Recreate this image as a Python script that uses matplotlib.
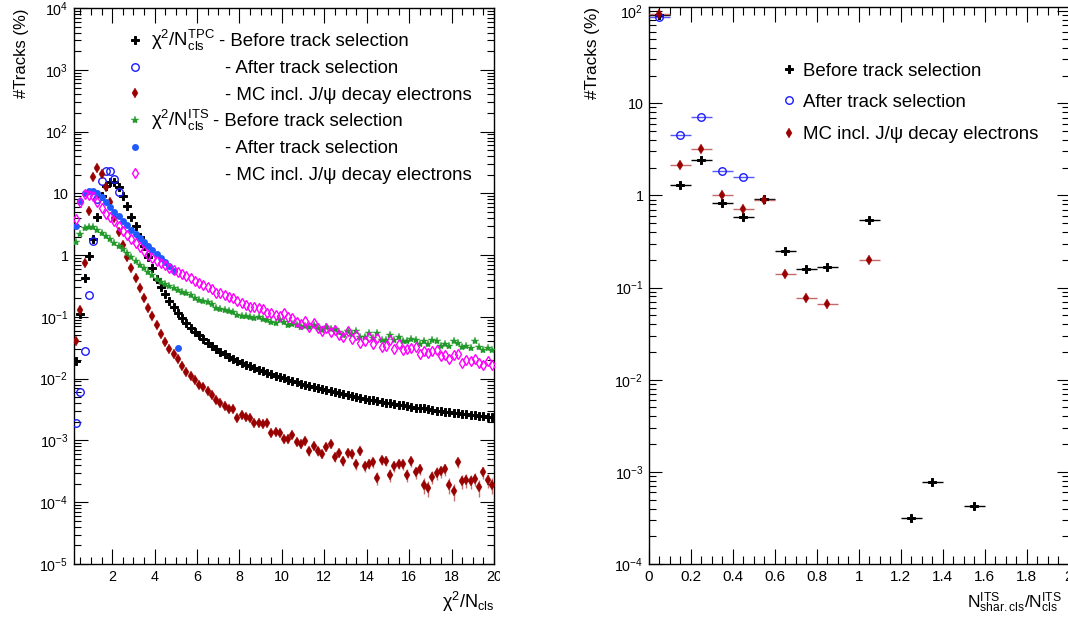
import numpy as np
import matplotlib
matplotlib.use("Agg")
import matplotlib.pyplot as plt
from matplotlib.lines import Line2D
from matplotlib.ticker import FixedLocator, MultipleLocator, FuncFormatter, NullFormatter
from matplotlib.transforms import Bbox, TransformedBbox

plt.rcParams["font.family"] = ["Liberation Sans", "DejaVu Sans"]
plt.rcParams["mathtext.fontset"] = "custom"
plt.rcParams["mathtext.rm"] = "Liberation Sans"
plt.rcParams["mathtext.it"] = "Liberation Sans:italic"
plt.rcParams["mathtext.bf"] = "Liberation Sans:bold"

W, H = 1068, 621

# ---------------------------------------------------------------------------
# chi2 / N_cls distributions (percent of tracks), 0.2-wide bins
# ---------------------------------------------------------------------------
chi2_centres = np.round(np.arange(0.3, 20.0, 0.2), 2)

tpc_before = [
    0.019, 0.11, 0.42, 0.95, 1.85, 4.2, 9.0, 13.0, 15.0, 15.4,
    12.5, 9.0, 6.3, 4.2, 2.95, 2.0, 1.4, 0.92, 0.62, 0.41,
    0.30, 0.234, 0.183, 0.143, 0.114, 0.095, 0.079, 0.067, 0.0575, 0.050,
    0.0433, 0.0382, 0.0337, 0.0302, 0.0273, 0.0247, 0.0227, 0.0208, 0.0193, 0.0179,
    0.0168, 0.0158, 0.0149, 0.0140, 0.0131, 0.0125, 0.0117, 0.0112, 0.0106, 0.0101,
    0.0096, 0.0092, 0.0087, 0.0083, 0.0080, 0.0077, 0.0074, 0.0071, 0.0068, 0.0065,
    0.0063, 0.0061, 0.0059, 0.0057, 0.0055, 0.0053, 0.0051, 0.0049, 0.0047, 0.0046,
    0.0045, 0.0043, 0.0042, 0.0041, 0.0040, 0.0039, 0.0038, 0.0037, 0.0036, 0.0035,
    0.0034, 0.0033, 0.0033, 0.0032, 0.0031, 0.0030, 0.0030, 0.0029, 0.0029, 0.0028,
    0.0028, 0.0027, 0.0027, 0.0026, 0.0026, 0.0025, 0.0025, 0.0024, 0.0024,
]

tpc_after = [0.0019, 0.006, 0.028, 0.23, 1.7, 8.0, 16.0, 23.0, 23.0, 17.0, 10.4]

tpc_mc = [
    0.041, 0.13, 0.74, 5.1, 18.6, 26.0, 20.5, 12.8, 7.2, 4.0,
    2.4, 1.45, 0.93, 0.63, 0.42, 0.29, 0.20, 0.141, 0.103, 0.074,
    0.052, 0.0397, 0.030, 0.025, 0.0206, 0.016, 0.013, 0.0112, 0.0095, 0.0079,
    0.0072, 0.0062, 0.0054, 0.0046, 0.0041, 0.0036, 0.0032, 0.0032, 0.00228, 0.0026,
    0.00237, 0.00228, 0.00194, 0.00189, 0.00185, 0.00189, 0.0013, 0.00139, 0.0013, 0.00104,
    0.00104, 0.00122, 0.00096, 0.00088, 0.00098, 0.00067, 0.00081, 0.00067, 0.00061, 0.00079,
    0.00087, 0.00053, 0.00063, 0.00047, 0.00062, 0.0006, 0.00041, 0.00068, 0.00039, 0.00042,
    0.00044, 0.00025, 0.00048, 0.00047, 0.00028, 0.00039, 0.00042, 0.00041, 0.00028, 0.00046,
    0.00031, 0.00035, 0.00019, 0.00017, 0.00026, 0.0003, 0.00032, 0.00034, 0.00019, 0.000152,
    0.00044, 0.00022, 0.00023, 0.00022, 0.00024, 0.000174, 0.00031, 0.00023, 0.00019,
]

its_before = [
    1.65, 2.19, 2.71, 2.88, 2.81, 2.55, 2.31, 2.04, 1.80, 1.59,
    1.40, 1.24, 1.09, 0.94, 0.80, 0.70, 0.61, 0.54, 0.47, 0.41,
    0.37, 0.34, 0.316, 0.29, 0.272, 0.252, 0.240, 0.226, 0.205, 0.19,
    0.183, 0.171, 0.162, 0.138, 0.133, 0.129, 0.124, 0.119, 0.108, 0.104,
    0.103, 0.098, 0.095, 0.098, 0.091, 0.090, 0.084, 0.081, 0.088, 0.084,
    0.075, 0.078, 0.074, 0.068, 0.072, 0.068, 0.074, 0.066, 0.062, 0.068,
    0.063, 0.063, 0.056, 0.051, 0.060, 0.052, 0.060, 0.048, 0.047, 0.055,
    0.045, 0.054, 0.043, 0.043, 0.051, 0.042, 0.048, 0.040, 0.041, 0.044,
    0.043, 0.036, 0.040, 0.036, 0.043, 0.041, 0.034, 0.036, 0.034, 0.041,
    0.038, 0.032, 0.034, 0.031, 0.040, 0.032, 0.029, 0.031, 0.029,
]

its_after = [
    2.96, 7.5, 10.0, 11.0, 11.0, 10.0, 8.6, 7.3, 6.1, 5.0,
    4.3, 3.6, 3.03, 2.55, 2.19, 1.87, 1.61, 1.40, 1.21, 1.05,
    0.90, 0.78, 0.67, 0.56, 0.031,
]

its_mc = [
    3.9, 7.3, 9.6, 9.4, 9.0, 7.3, 5.7, 4.7, 4.1, 3.5,
    2.96, 2.48, 2.11, 1.80, 1.55, 1.33, 1.16, 1.02, 0.90, 0.80,
    0.74, 0.68, 0.62, 0.575, 0.538, 0.494, 0.458, 0.42, 0.385, 0.357,
    0.328, 0.30, 0.279, 0.247, 0.240, 0.226, 0.212, 0.20, 0.181, 0.17,
    0.156, 0.146, 0.143, 0.137, 0.134, 0.117, 0.114, 0.107, 0.103, 0.114,
    0.098, 0.095, 0.084, 0.077, 0.087, 0.068, 0.079, 0.065, 0.060, 0.065,
    0.056, 0.061, 0.051, 0.048, 0.060, 0.044, 0.051, 0.038, 0.040, 0.047,
    0.037, 0.045, 0.032, 0.034, 0.042, 0.030, 0.037, 0.029, 0.030, 0.031,
    0.033, 0.025, 0.028, 0.026, 0.028, 0.029, 0.023, 0.024, 0.021, 0.024,
    0.025, 0.018, 0.020, 0.019, 0.0206, 0.018, 0.0166, 0.019, 0.0166,
]

# percent carried by a single MC track (sets the statistical error bars)
mc_track_weight = 1.5e-5

# ---------------------------------------------------------------------------
# shared ITS clusters fraction (percent of tracks), 0.1-wide bins
# ---------------------------------------------------------------------------
shar_half_width = 0.05
shar_before_x = [0.05, 0.15, 0.25, 0.35, 0.45, 0.55, 0.65, 0.75, 0.85, 1.05, 1.25, 1.35, 1.55]
shar_before_y = [91.0, 1.30, 2.44, 0.82, 0.587, 0.91, 0.249, 0.159, 0.167, 0.535,
                 3.17e-4, 7.7e-4, 4.3e-4]
shar_after_x = [0.05, 0.15, 0.25, 0.35, 0.45]
shar_after_y = [86.0, 4.55, 7.08, 1.84, 1.57]
shar_mc_x = [0.05, 0.15, 0.25, 0.35, 0.45, 0.55, 0.65, 0.75, 0.85, 1.05]
shar_mc_y = [93.5, 2.12, 3.15, 1.0, 0.72, 0.90, 0.140, 0.0777, 0.0657, 0.199]

# decade exponents labelled on each y axis
left_decades = list(range(-5, 5))
right_decades = list(range(-4, 3))

legend_left = [
    ("$\\mathregular{χ^{2}/N^{TPC}_{cls}}$", "- Before track selection"),
    ("", "- After track selection"),
    ("", "- MC incl. J/ψ decay electrons"),
    ("$\\mathregular{χ^{2}/N^{ITS}_{cls}}$", "- Before track selection"),
    ("", "- After track selection"),
    ("", "- MC incl. J/ψ decay electrons"),
]
legend_right = ["Before track selection", "After track selection", "MC incl. J/ψ decay electrons"]

# ---------------------------------------------------------------------------
# marker styles
# ---------------------------------------------------------------------------
st_before = dict(marker="P", color="black", markersize=6.0, markeredgewidth=0.7, linestyle="none")
st_after = dict(marker="o", markerfacecolor="none", markeredgecolor="#1a1aff",
                markersize=5.4, markeredgewidth=1.0, linestyle="none")
st_mc = dict(marker="d", color="#990000", markersize=4.6, markeredgewidth=0.3, linestyle="none")
st_its_before = dict(marker="*", color="#22992a", markersize=6.0, markeredgewidth=0.3, linestyle="none")
st_its_after = dict(marker="o", color="#1f5aff", markersize=5.0, markeredgewidth=0.0, linestyle="none")
st_its_mc = dict(marker="d", markerfacecolor="none", markeredgecolor="#ff00ff",
                 markersize=5.3, markeredgewidth=1.0, linestyle="none")


def log_label(v, pos):
    e = int(round(np.log10(v)))
    if e == 0:
        return "1"
    if e == 1:
        return "10"
    return "$\\mathregular{10^{%d}}$" % e


def decade_ticks(exps):
    majors = [10.0 ** e for e in exps]
    minors = [m * 10.0 ** e for e in exps[:-1] for m in range(2, 10)]
    return majors, minors


def fig_xy(px, py):
    return px / W, 1.0 - py / H


fig = plt.figure(figsize=(W / 100, H / 100), dpi=100)

# ------------------------------- left panel --------------------------------
ax1 = fig.add_axes([74 / W, 57 / H, (494 - 74) / W, (564 - 8) / H])
ax1.set_yscale("log")
ax1.set_xlim(0.2, 20.0)
ax1.set_ylim(1e-5, 1e4)

x = chi2_centres
ax1.plot(x, tpc_before, **st_before, zorder=3)
ax1.plot(x[:len(tpc_after)], tpc_after, **st_after, zorder=3)
mc = np.array(tpc_mc)
ax1.errorbar(x, mc, yerr=np.sqrt(mc * mc_track_weight), fmt="none",
             ecolor="#b34040", elinewidth=1.0, alpha=0.75, zorder=3)
ax1.plot(x, mc, **st_mc, zorder=4)
ax1.plot(x, its_before, **st_its_before, zorder=4)
ax1.plot(x[:len(its_after)], its_after, **st_its_after, zorder=4)
ax1.plot(x, its_mc, **st_its_mc, zorder=5)

maj, mnr = decade_ticks(left_decades)
ax1.xaxis.set_major_locator(FixedLocator(list(range(2, 21, 2))))
ax1.xaxis.set_minor_locator(MultipleLocator(0.5))
ax1.xaxis.set_major_formatter(FuncFormatter(lambda v, p: "%d" % round(v)))
ax1.yaxis.set_major_locator(FixedLocator(maj))
ax1.yaxis.set_minor_locator(FixedLocator(mnr))
ax1.yaxis.set_major_formatter(FuncFormatter(log_label))
ax1.yaxis.set_minor_formatter(NullFormatter())
ax1.tick_params(which="both", direction="in", top=True, right=True, width=0.8, colors="black")
ax1.tick_params(axis="x", which="major", length=10.5, pad=4.5, labelsize=10.3)
ax1.tick_params(axis="x", which="minor", length=5.0)
ax1.tick_params(axis="y", which="major", length=10.0, pad=4.0, labelsize=10.3)
ax1.tick_params(axis="y", which="minor", length=5.0)
for s in ax1.spines.values():
    s.set_linewidth(1.0)

# ------------------------------- right panel -------------------------------
ax2 = fig.add_axes([649 / W, 57 / H, (1068.5 - 649) / W, (564 - 7.3) / H])
ax2.set_yscale("log")
ax2.set_xlim(0.0, 2.0)
ax2.set_ylim(1e-4, 110)

ax2.errorbar(shar_before_x, shar_before_y, xerr=shar_half_width, fmt="none",
             ecolor="black", elinewidth=1.0, zorder=3)
ax2.plot(shar_before_x, shar_before_y, **st_before, zorder=4)
ax2.errorbar(shar_after_x, shar_after_y, xerr=shar_half_width, fmt="none",
             ecolor="#3a3aff", elinewidth=1.0, alpha=0.85, zorder=3)
ax2.plot(shar_after_x, shar_after_y, **st_after, zorder=4)
smc = np.array(shar_mc_y)
ax2.errorbar(shar_mc_x, smc, xerr=shar_half_width, yerr=np.sqrt(smc * mc_track_weight),
             fmt="none", ecolor="#c46a6a", elinewidth=1.0, zorder=3)
ax2.plot(shar_mc_x, smc, **st_mc, zorder=4)

maj, mnr = decade_ticks(right_decades)
ax2.xaxis.set_major_locator(FixedLocator([round(0.2 * i, 1) for i in range(11)]))
ax2.xaxis.set_minor_locator(MultipleLocator(0.05))
ax2.xaxis.set_major_formatter(FuncFormatter(lambda v, p: "%g" % round(v, 1)))
ax2.yaxis.set_major_locator(FixedLocator(maj))
ax2.yaxis.set_minor_locator(FixedLocator(mnr))
ax2.yaxis.set_major_formatter(FuncFormatter(log_label))
ax2.yaxis.set_minor_formatter(NullFormatter())
ax2.tick_params(which="both", direction="in", top=True, right=True, width=0.8, colors="black")
ax2.tick_params(axis="x", which="major", length=11.0, pad=4.5, labelsize=11.0)
ax2.tick_params(axis="x", which="minor", length=5.5)
ax2.tick_params(axis="y", which="major", length=9.0, pad=4.0, labelsize=10.3)
ax2.tick_params(axis="y", which="minor", length=5.0)
for s in ax2.spines.values():
    s.set_linewidth(1.0)

# ------------------------------- axis titles -------------------------------
fig.text(*fig_xy(22, 8), "#Tracks (%)", rotation=90, ha="center", va="top", fontsize=12)
fig.text(*fig_xy(592, 7), "#Tracks (%)", rotation=90, ha="center", va="top", fontsize=12.3)
fig.text(*fig_xy(494, 608), "$\\mathregular{χ^{2}/N_{cls}}$", ha="right", va="baseline", fontsize=13)
fig.text(*fig_xy(1062, 608), "$\\mathregular{N^{ITS}_{shar.cls}/N^{ITS}_{cls}}$",
         ha="right", va="baseline", fontsize=12.5)

# ------------------------------- legends -----------------------------------
left_styles = [st_before, st_after, st_mc, st_its_before, st_its_after, st_its_mc]
left_rows = [40.0, 66.7, 93.3, 120.0, 146.7, 173.3]
for (prefix, label), style, ry in zip(legend_left, left_styles, left_rows):
    mx, my = fig_xy(135, ry)
    fig.add_artist(Line2D([mx], [my], transform=fig.transFigure, **style))
    if prefix:
        fig.text(*fig_xy(151, ry + 6.3), prefix, ha="left", va="baseline", fontsize=13.4)
        fig.text(*fig_xy(219 if "TPC" in prefix else 213, ry + 6.3), label,
                 ha="left", va="baseline", fontsize=13.4)
    else:
        fig.text(*fig_xy(225, ry + 6.3), label, ha="left", va="baseline", fontsize=13.4)

right_styles = [st_before, st_after, st_mc]
right_rows = [69.0, 100.3, 132.7]
for label, style, ry in zip(legend_right, right_styles, right_rows):
    mx, my = fig_xy(789, ry)
    fig.add_artist(Line2D([mx], [my], transform=fig.transFigure, **style))
    fig.text(*fig_xy(803, ry + 6.5), label, ha="left", va="baseline", fontsize=13.4)

# the left pad ends at x = 500 px: clip its tick labels there
fig.canvas.draw()
pad_box = TransformedBbox(Bbox([[0.0, 0.0], [500 / W, 1.0]]), fig.transFigure)
for lab in ax1.get_xticklabels():
    lab.set_clip_box(pad_box)
    lab.set_clip_on(True)

fig.savefig("out.png", dpi=100)
